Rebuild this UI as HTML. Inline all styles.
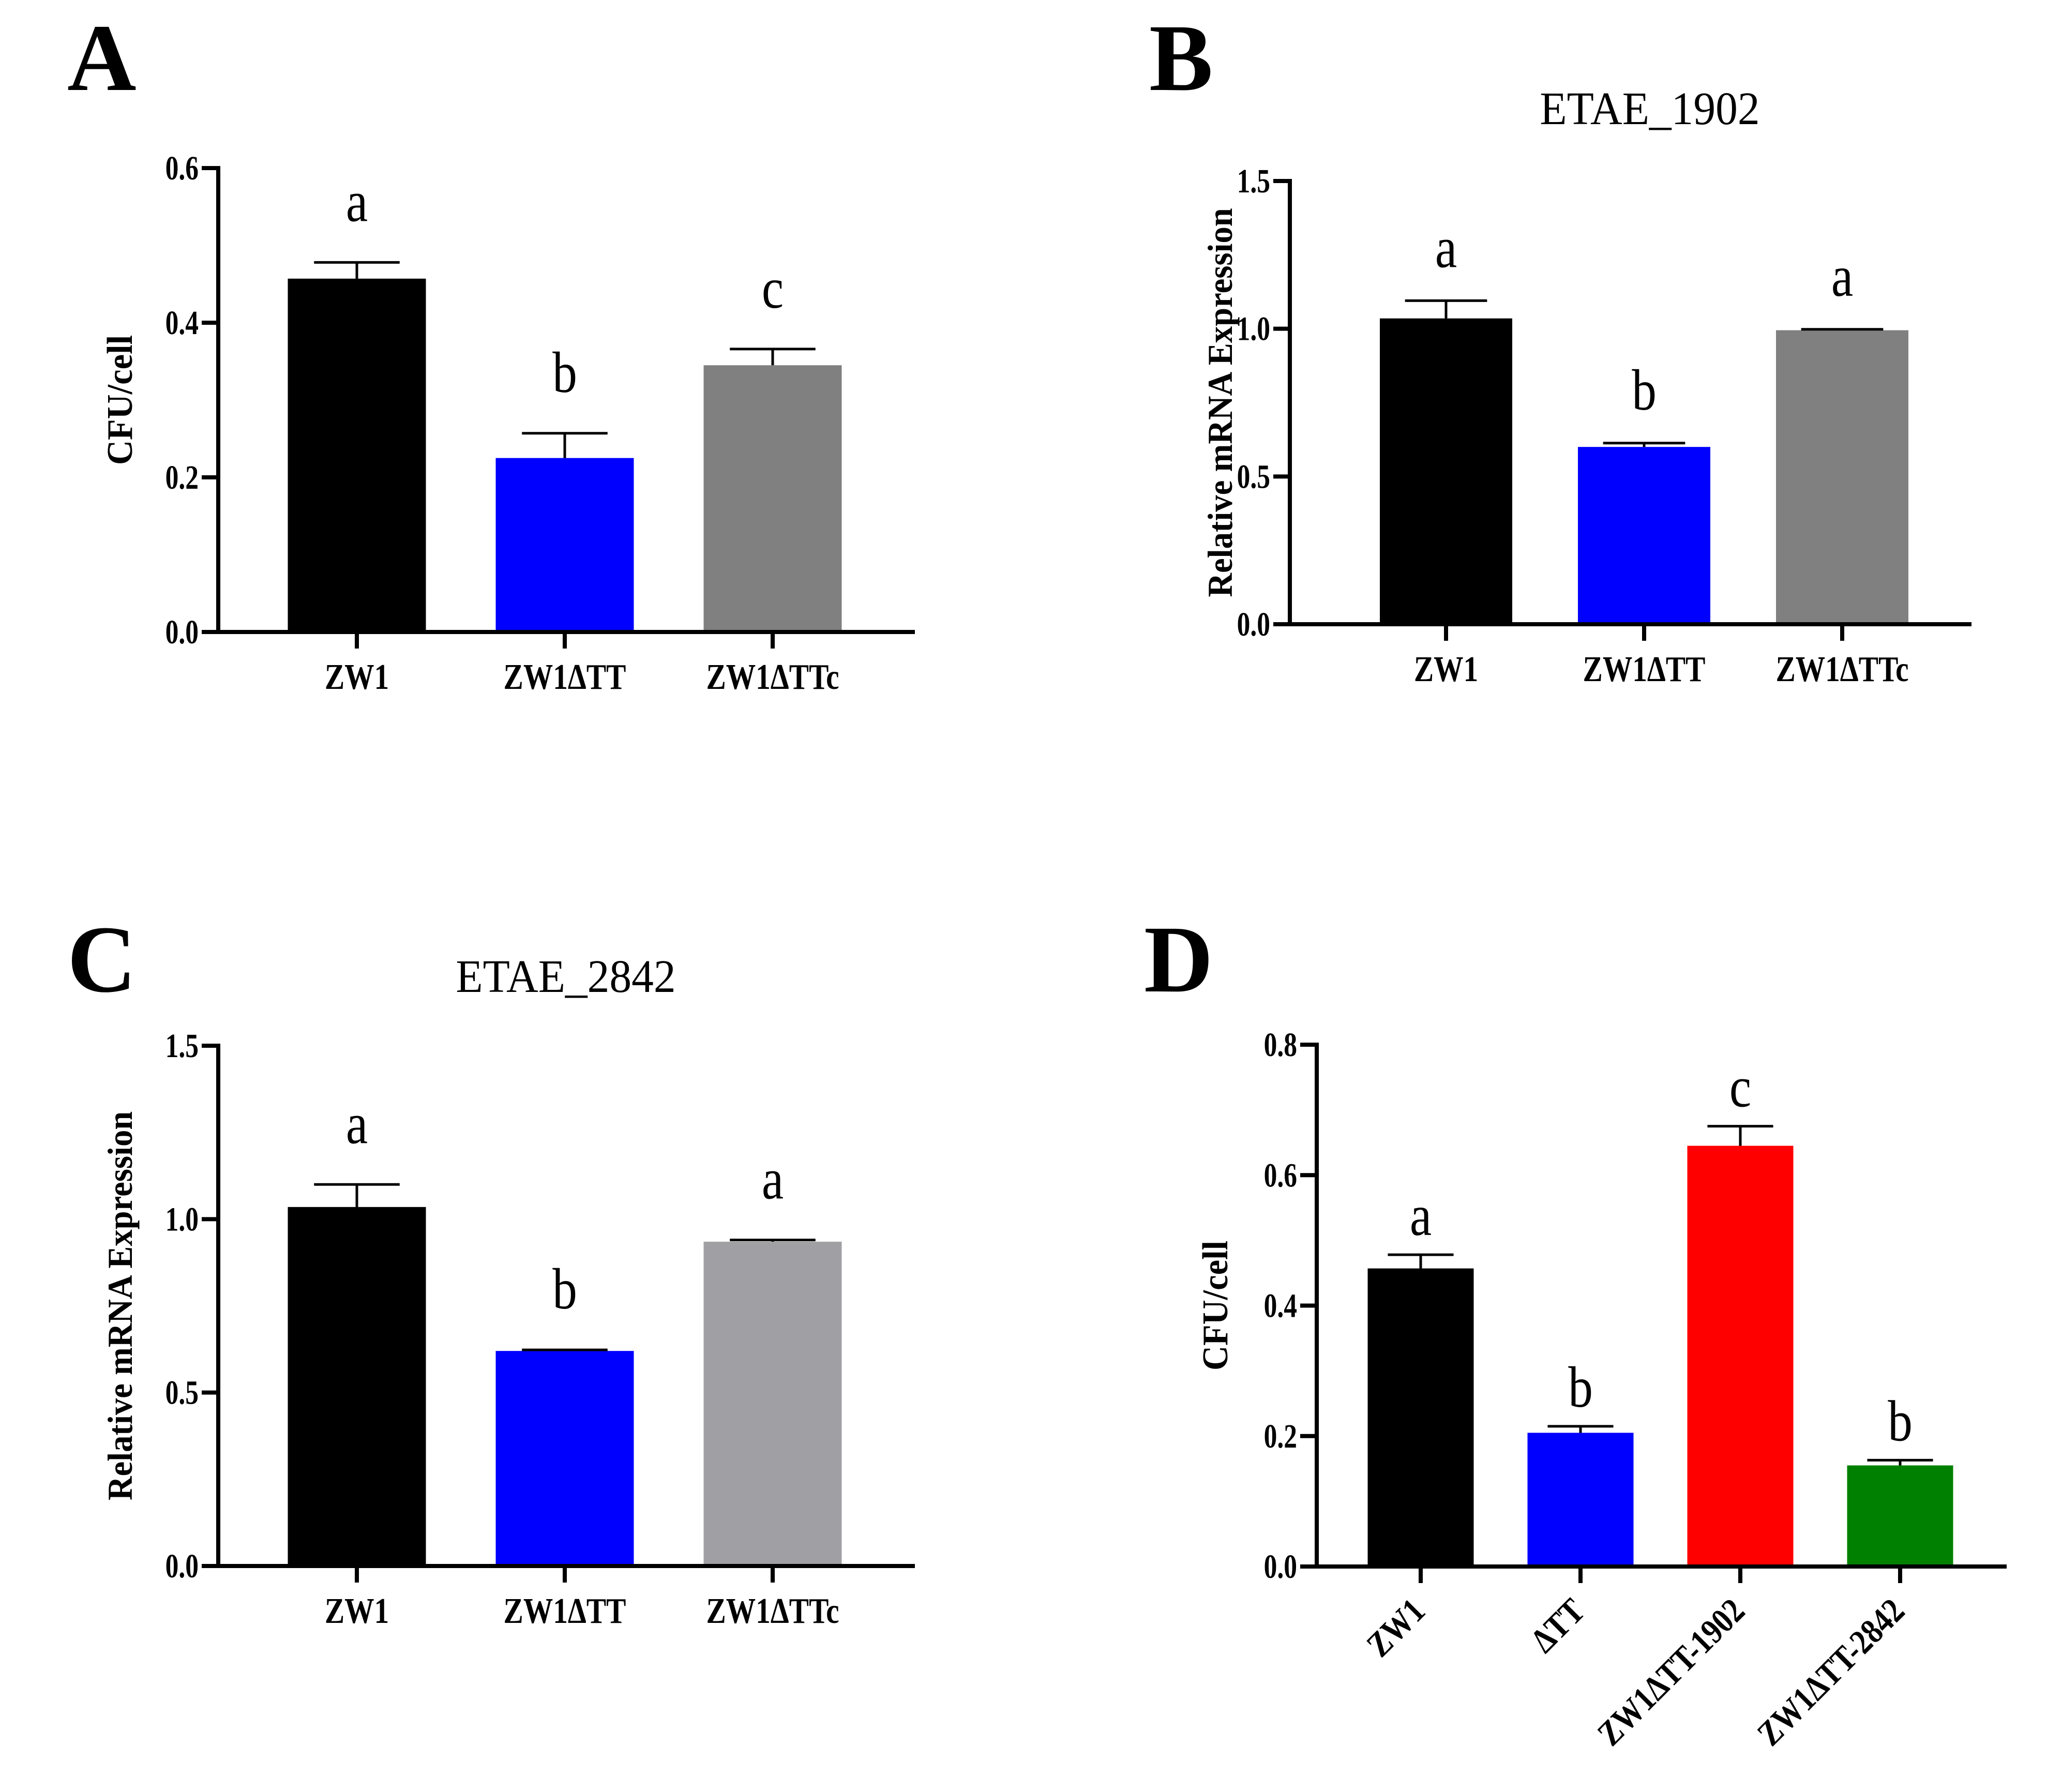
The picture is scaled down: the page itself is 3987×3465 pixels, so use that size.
<!DOCTYPE html>
<html><head><meta charset="utf-8"><style>
html,body{margin:0;padding:0;background:#fff;}
svg{display:block;}
text{font-family:"Liberation Serif","DejaVu Serif",serif;}
</style></head>
<body>
<svg id="fig" width="3987" height="3465" viewBox="0 0 3987 3465" xmlns="http://www.w3.org/2000/svg"></svg>
<script>
// Panel A data
const catsA = ["ZW1", "ZW1\u0394TT", "ZW1\u0394TTc"];
const valsA = [0.457, 0.225, 0.345];
const errA = [0.021, 0.032, 0.021];
const letA = ["a", "b", "c"];
const ticksA = [0, 0.2, 0.4, 0.6];
const tickLabA = ["0.0", "0.2", "0.4", "0.6"];
// Panel B data
const catsB = ["ZW1", "ZW1\u0394TT", "ZW1\u0394TTc"];
const valsB = [1.035, 0.600, 0.995];
const errB = [0.06, 0.013, 0.003];
const letB = ["a", "b", "a"];
const ticksB = [0, 0.5, 1.0, 1.5];
const tickLabB = ["0.0", "0.5", "1.0", "1.5"];
// Panel C data
const catsC = ["ZW1", "ZW1\u0394TT", "ZW1\u0394TTc"];
const valsC = [1.035, 0.620, 0.935];
const errC = [0.065, 0.003, 0.005];
const letC = ["a", "b", "a"];
const ticksC = [0, 0.5, 1.0, 1.5];
const tickLabC = ["0.0", "0.5", "1.0", "1.5"];
// Panel D data
const catsD = ["ZW1", "\u0394TT", "ZW1\u0394TT-1902", "ZW1\u0394TT-2842"];
const valsD = [0.457, 0.205, 0.645, 0.155];
const errD = [0.021, 0.010, 0.030, 0.008];
const letD = ["a", "b", "c", "b"];
const ticksD = [0, 0.2, 0.4, 0.6, 0.8];
const tickLabD = ["0.0", "0.2", "0.4", "0.6", "0.8"];

const NS = "http://www.w3.org/2000/svg";
const svg = document.getElementById("fig");
function mk(tag, attrs, parent, txt) {
  const e = document.createElementNS(NS, tag);
  for (const k in attrs) e.setAttribute(k, attrs[k]);
  if (txt !== undefined) e.textContent = txt;
  (parent || svg).appendChild(e);
  return e;
}
function txt(parent, x, y, s, size, bold, anchor, sx, rot) {
  const tr = "translate(" + x + " " + y + ")" + (rot ? " rotate(" + rot + ")" : "") + " scale(" + sx + " 1)";
  return mk("text", {x: 0, y: 0, "font-size": size, "font-weight": bold ? "bold" : "normal", "text-anchor": anchor, transform: tr}, parent, s);
}

function panel(p) {
  const g = mk("g", {}, svg);
  
  
  const ymax = p.ticks[p.ticks.length - 1];
  const Y = v => p.y0 - (v / ymax) * (p.y0 - p.yTop);
  const n = p.cats.length;
  const X = i => p.c0 + i * p.step;

  const lab = txt(g, p.lx, p.ly, p.id, 185, true, "start", 1);
  
  

  if (p.title) {
    const t = txt(g, p.tx, p.ty, p.title, 90, false, "middle", 0.95);
    
    
  }

  for (let i = 0; i < n; i++) {
    const cx = X(i);
    const r = mk("rect", {x: cx - p.bw / 2, y: Y(p.vals[i]), width: p.bw, height: p.y0 - Y(p.vals[i]), fill: p.colors[i]}, g);
    
    
    const top = p.vals[i] + p.errs[i];
    const e1 = mk("line", {x1: cx, x2: cx, y1: Y(p.vals[i]), y2: Y(top), stroke: "#000", "stroke-width": 5}, g);
    
    
    const e2 = mk("line", {x1: cx - p.bw * 0.31, x2: cx + p.bw * 0.31, y1: Y(top), y2: Y(top), stroke: "#000", "stroke-width": 5}, g);
    
    
    const lt = txt(g, cx, Y(top) - p.lgap, p.lets[i], 112, false, "middle", 0.85);
    
    
    const tk = mk("line", {x1: cx, x2: cx, y1: p.y0, y2: p.y0 + 32, stroke: "#000", "stroke-width": 8}, g);
    
    
    let cl;
    if (p.rot) {
      cl = txt(g, cx + 12, p.y0 + 90, p.cats[i], 68, true, "end", 0.85, -45);
    } else {
      cl = txt(g, cx, p.y0 + 110, p.cats[i], 70, true, "middle", 0.82);
    }
    
    
  }

  const ya = mk("line", {x1: p.ax, x2: p.ax, y1: p.yTop - 4, y2: p.y0 + 4, stroke: "#000", "stroke-width": 8}, g);
  
  
  const xa = mk("line", {x1: p.ax - 32, x2: p.xEnd, y1: p.y0, y2: p.y0, stroke: "#000", "stroke-width": 8}, g);
  
  
  for (let k = 0; k < p.ticks.length; k++) {
    const ty = Y(p.ticks[k]);
    const tl = mk("line", {x1: p.ax - 32, x2: p.ax, y1: ty, y2: ty, stroke: "#000", "stroke-width": 8}, g);
    
    
    const tt = txt(g, p.ax - 38, ty + 22, p.tickLab[k], 66, true, "end", 0.78);
    
    
  }
  const ycy = (p.y0 + p.yTop) / 2;
  const yt = txt(g, p.ytx, ycy, p.ytitle, p.ytsize, true, "middle", 0.95, -90);
  
  
}

panel({id: "A", lx: 130, ly: 174, ax: 422, yTop: 325, y0: 1222, xEnd: 1769, c0: 690, step: 402, bw: 267, lgap: 80,
  cats: catsA, vals: valsA, errs: errA, lets: letA, ticks: ticksA, tickLab: tickLabA,
  colors: ["#000000", "#0000ff", "#808080"], ytitle: "CFU/cell", ytx: 255, ytsize: 70});
panel({id: "B", lx: 2222, ly: 174, ax: 2494, yTop: 350, y0: 1207, xEnd: 3812, c0: 2796, step: 383, bw: 256, lgap: 65,
  cats: catsB, vals: valsB, errs: errB, lets: letB, ticks: ticksB, tickLab: tickLabB,
  colors: ["#000000", "#0000ff", "#808080"], ytitle: "Relative mRNA Expression", ytx: 2382, ytsize: 68,
  title: "ETAE_1902", tx: 3190, ty: 240});
panel({id: "C", lx: 130, ly: 1917, ax: 422, yTop: 2022, y0: 3028, xEnd: 1769, c0: 690, step: 402, bw: 267, lgap: 80,
  cats: catsC, vals: valsC, errs: errC, lets: letC, ticks: ticksC, tickLab: tickLabC,
  colors: ["#000000", "#0000ff", "#a0a0a4"], ytitle: "Relative mRNA Expression", ytx: 255, ytsize: 68,
  title: "ETAE_2842", tx: 1094, ty: 1918});
panel({id: "D", lx: 2212, ly: 1917, ax: 2546, yTop: 2020, y0: 3029, xEnd: 3880, c0: 2747, step: 309, bw: 205, lgap: 38,
  cats: catsD, vals: valsD, errs: errD, lets: letD, ticks: ticksD, tickLab: tickLabD,
  colors: ["#000000", "#0000ff", "#ff0000", "#008000"], ytitle: "CFU/cell", ytx: 2373, ytsize: 70, rot: true});
</script>
</body></html>
